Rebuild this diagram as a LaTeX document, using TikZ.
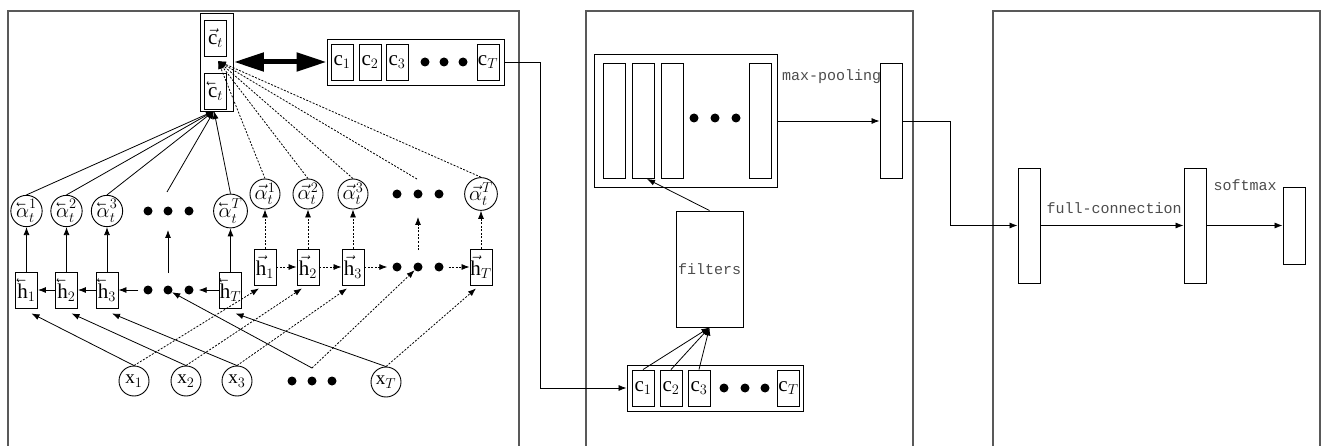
\documentclass[tikz,border=0pt]{standalone}
\usepackage{fontspec}
\usepackage{graphicx}
\setmainfont{Liberation Serif}
\setmonofont{Liberation Mono}
\usetikzlibrary{positioning, calc, arrows.meta}

\newcommand{\frecciasx}[1]{\reflectbox{$\vec{\reflectbox{$#1$}}$}}

\tikzset{
  cella/.style={draw, line width=0.9pt, minimum width=22pt, minimum height=36pt, inner sep=0pt, font=\fontsize{21}{23}\selectfont},
  unita/.style={draw, circle, line width=0.9pt, minimum size=28pt, inner sep=0pt, font=\fontsize{20}{22}\selectfont},
  ingresso/.style={unita, minimum size=30pt, font=\fontsize{19}{21}\selectfont},
  punto/.style={circle, fill, minimum size=9pt, inner sep=0pt},
  barra/.style={draw, line width=0.9pt, minimum width=22pt, inner sep=0pt},
  contenitore/.style={draw, line width=0.9pt, inner sep=0pt},
  freccia/.style={line width=0.8pt, -{Latex[length=8pt,width=6pt]}},
  tratt/.style={dash pattern=on 2pt off 1.5pt},
  pannello/.style={draw=black!65, line width=1.3pt},
  etichetta/.style={font=\ttfamily\fontsize{15}{17}\selectfont, text=black!70, inner sep=0pt}
}

\begin{document}
\begin{tikzpicture}[x=1pt, y=-1pt]
    \useasboundingbox (0,0) rectangle (1321,446);
    %pannelli
    \draw[pannello] (8,447) |- (519,11) -- (519,447);
    \draw[pannello] (586,447) |- (913,11) -- (913,447);
    \draw[pannello] (993,447) |- (1320,11) -- (1320,447);

    %vettore di contesto
    \node[contenitore, minimum width=33pt, minimum height=98pt] (ct) at (217,62) {};
    \node[cella] (cf) at (215.5,38) {$\vec{\mathrm{c}}_t$};
    \node[cella] (cb) at (215.5,91) {$\frecciasx{\mathrm{c}}_t$};
    \coordinate (ctin) at (218,61);
    \coordinate (ctsud) at (214,111);

    %sequenza c in alto
    \node[contenitore, minimum width=177pt, minimum height=46pt] (crow) at (415.5,62) {};
    \node[cella] (c1) at (342,62) {$\mathrm{c}_1$};
    \node[cella] (c2) at (370,62) {$\mathrm{c}_2$};
    \node[cella] (c3) at (397,62) {$\mathrm{c}_3$};
    \node[punto] (pc1) at (425,62) {};
    \node[punto] (pc2) at (444,62) {};
    \node[punto] (pc3) at (463,62) {};
    \node[cella] (cT) at (488,62) {$\mathrm{c}_T$};
    \draw[line width=5pt, {Triangle[length=30pt,width=18pt]}-{Triangle[length=30pt,width=18pt]}] (ct.east) -- (crow.west);

    %pesi di attenzione all'indietro
    \node[unita] (ab1) at (26.5,211) {$\frecciasx{\alpha}^{1}_{t}$};
    \node[unita] (ab2) at (66.5,211) {$\frecciasx{\alpha}^{2}_{t}$};
    \node[unita] (ab3) at (107,211) {$\frecciasx{\alpha}^{3}_{t}$};
    \node[punto] (pab1) at (148,211) {};
    \node[punto] (pab2) at (168,211) {};
    \node[punto] (pab3) at (189,211) {};
    \node[unita] (abT) at (230.5,211) {$\frecciasx{\alpha}^{T}_{t}$};
    \coordinate (mab) at (167,192);

    %pesi di attenzione in avanti
    \node[unita] (af1) at (265,194) {$\vec{\alpha}^{1}_{t}$};
    \node[unita] (af2) at (308,194) {$\vec{\alpha}^{2}_{t}$};
    \node[unita] (af3) at (353,194) {$\vec{\alpha}^{3}_{t}$};
    \node[punto] (paf1) at (397,194) {};
    \node[punto] (paf2) at (418,194) {};
    \node[punto] (paf3) at (439,194) {};
    \node[unita] (afT) at (481,194) {$\vec{\alpha}^{T}_{t}$};
    \coordinate (maf) at (417,179);

    %stati nascosti all'indietro
    \node[cella] (hb1) at (26.5,290) {$\frecciasx{\mathrm{h}}_1$};
    \node[cella] (hb2) at (66.5,290) {$\frecciasx{\mathrm{h}}_2$};
    \node[cella] (hb3) at (107,290) {$\frecciasx{\mathrm{h}}_3$};
    \node[punto] (phb1) at (148,290) {};
    \node[punto] (phb2) at (168,290) {};
    \node[punto] (phb3) at (189,290) {};
    \node[cella] (hbT) at (230.5,290) {$\frecciasx{\mathrm{h}}_T$};

    %stati nascosti in avanti
    \node[cella] (hf1) at (265,267) {$\vec{\mathrm{h}}_1$};
    \node[cella] (hf2) at (308,267) {$\vec{\mathrm{h}}_2$};
    \node[cella] (hf3) at (353,267) {$\vec{\mathrm{h}}_3$};
    \node[punto] (phf1) at (397,267) {};
    \node[punto] (phf2) at (418,267) {};
    \node[punto] (phf3) at (439,267) {};
    \node[cella] (hfT) at (481,267) {$\vec{\mathrm{h}}_T$};

    %ingressi
    \node[ingresso] (x1) at (134,381) {$\mathrm{x}_1$};
    \node[ingresso] (x2) at (186,381) {$\mathrm{x}_2$};
    \node[ingresso] (x3) at (237,381) {$\mathrm{x}_3$};
    \node[punto] (px1) at (292,381) {};
    \node[punto] (px2) at (312,381) {};
    \node[punto] (px3) at (332,381) {};
    \node[ingresso] (xT) at (386,382) {$\mathrm{x}_T$};
    \coordinate (xp) at (312,368);

    %collegamenti all'indietro
    \draw[freccia] (hb2) -- (hb1);
    \draw[freccia] (hb3) -- (hb2);
    \draw[freccia, shorten <=5pt] (phb1) -- (hb3);
    \draw[freccia, shorten >=5pt] (hbT) -- (phb3);
    \draw[freccia] (hb1) -- (ab1);
    \draw[freccia] (hb2) -- (ab2);
    \draw[freccia] (hb3) -- (ab3);
    \draw[freccia] (hbT) -- (abT);
    \draw[freccia] (168,273) -- (168,230);
    \draw[freccia] (x1.north) -- ([xshift=5pt,yshift=-5pt]hb1.south);
    \draw[freccia] (x2.north) -- ([xshift=5pt,yshift=-5pt]hb2.south);
    \draw[freccia] (x3.north) -- ([xshift=5pt,yshift=-5pt]hb3.south);
    \draw[freccia] (xp) -- ([yshift=-20pt]phb2);
    \draw[freccia] (xT.north) -- ([xshift=5pt,yshift=-5pt]hbT.south);
    \draw[freccia] (ab1.north) -- (ctsud);
    \draw[freccia] (ab2.north) -- (ctsud);
    \draw[freccia] (ab3.north) -- (ctsud);
    \draw[freccia] (mab) -- (ctsud);
    \draw[freccia] (abT.north) -- (ctsud);

    %collegamenti in avanti
    \draw[freccia, tratt] (hf1) -- (hf2);
    \draw[freccia, tratt] (hf2) -- (hf3);
    \draw[freccia, tratt, shorten >=5pt] (hf3) -- (phf1);
    \draw[freccia, tratt, shorten <=5pt] (phf3) -- (hfT);
    \draw[freccia, tratt] (hf1) -- (af1);
    \draw[freccia, tratt] (hf2) -- (af2);
    \draw[freccia, tratt] (hf3) -- (af3);
    \draw[freccia, tratt] (hfT) -- (afT);
    \draw[freccia, tratt] (418,250) -- (418,217);
    \draw[freccia, tratt] (x1.north) -- ([xshift=-6pt,yshift=-3pt]hf1.south);
    \draw[freccia, tratt] (x2.north) -- ([xshift=-6pt,yshift=-3pt]hf2.south);
    \draw[freccia, tratt] (x3.north) -- ([xshift=-6pt,yshift=-3pt]hf3.south);
    \draw[freccia, tratt] (xp) -- ([xshift=-5pt,yshift=-21pt]phf2);
    \draw[freccia, tratt] (xT.north) -- ([xshift=-5pt,yshift=-3pt]hfT.south);
    \draw[freccia, tratt] (af1.north) -- (ctin);
    \draw[freccia, tratt] (af2.north) -- (ctin);
    \draw[freccia, tratt] (af3.north) -- (ctin);
    \draw[freccia, tratt] (maf) -- (ctin);
    \draw[freccia, tratt] (afT.north) -- (ctin);

    %convoluzione
    \node[contenitore, minimum width=176pt, minimum height=46pt] (cin) at (715,388) {};
    \node[cella] (g1) at (643,388) {$\mathrm{c}_1$};
    \node[cella] (g2) at (671,388) {$\mathrm{c}_2$};
    \node[cella] (g3) at (699,388) {$\mathrm{c}_3$};
    \node[punto] (pg1) at (724,388) {};
    \node[punto] (pg2) at (745,388) {};
    \node[punto] (pg3) at (765,388) {};
    \node[cella] (gT) at (788.5,388) {$\mathrm{c}_T$};
    \draw[freccia] (crow.east) -- ++(36,0) |- (cin.west);

    \node[draw, line width=0.9pt, minimum width=67pt, minimum height=116pt, inner sep=0pt] (filtri) at (709.5,269) {};
    \node[etichetta] (lfiltri) at (filtri) {filters};
    \draw[freccia] (g1.north) -- (filtri.south);
    \draw[freccia] (g2.north) -- (filtri.south);
    \draw[freccia] (g3.north) -- (filtri.south);

    \node[contenitore, minimum width=183pt, minimum height=133pt] (mappe) at (685.5,121) {};
    \node[barra, minimum height=115pt] (f1) at (614,121) {};
    \node[barra, minimum height=115pt] (f2) at (643,121) {};
    \node[barra, minimum height=115pt] (f3) at (672,121) {};
    \node[punto] (pf1) at (694,118) {};
    \node[punto] (pf2) at (715,118) {};
    \node[punto] (pf3) at (736,118) {};
    \node[barra, minimum height=115pt] (f4) at (760,121) {};
    \draw[freccia] (filtri.north) -- ([xshift=4pt]f2.south);

    \node[barra, minimum height=115pt] (pool) at (891,121) {};
    \node[etichetta, anchor=west] (lpool) at (782,77) {max-pooling};
    \draw[freccia] (mappe.east) -- (pool.west);

    %classificazione
    \node[barra, minimum height=115pt] (fc1) at (1029,225.5) {};
    \node[barra, minimum height=115pt] (fc2) at (1195,225.5) {};
    \node[barra, minimum height=77pt] (sm) at (1294,225.5) {};
    \draw[freccia] (pool.east) -- ++(48,0) |- (fc1.west);
    \draw[freccia] (fc1) -- (fc2);
    \draw[freccia] (fc2) -- (sm);
    \node[etichetta] (lfc) at (1114,208) {full-connection};
    \node[etichetta] (lsm) at (1245,185) {softmax};
\end{tikzpicture}
\end{document}
